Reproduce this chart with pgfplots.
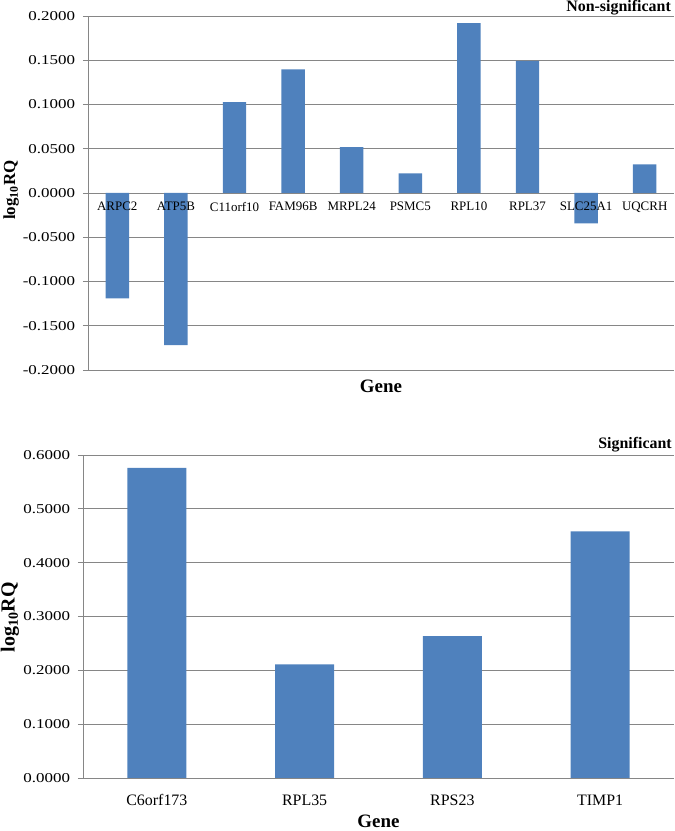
\documentclass[border=0pt]{standalone}
\usepackage{fontspec}
\setmainfont{Liberation Serif}
\usepackage{graphicx}
\usepackage{pgfplots}
\pgfplotsset{compat=1.18}
\definecolor{barblue}{RGB}{79,129,189}
\definecolor{gridgray}{RGB}{134,134,134}
\newcommand\sx[1]{\scalebox{1.25}[1]{#1}}
\pgfplotsset{
  myax/.style={
    scale only axis,
    ybar, bar width=0.4,
    axis y line*=left,
    axis line style={gridgray, line width=0.9bp},
    ymajorgrids,
    grid style={gridgray, line width=0.9bp},
    tick style={gridgray, line width=0.9bp},
    tick align=outside,
    hide obscured x ticks=false,
    hide obscured y ticks=false,
    xtick style={draw=none},
    major tick length=5bp,
    every axis title shift=0pt,
    yticklabel style={font=\fontsize{13.6}{15}\selectfont, xshift=-4.5bp},
    ylabel={\textbf{log\textsubscript{10}RQ}},
    xlabel={\textbf{Gene}},
    ylabel style={anchor=center},
    xlabel style={font=\fontsize{19}{21}\selectfont, anchor=center, inner sep=1bp},
    title style={font=\fontsize{16}{18}\selectfont\bfseries, anchor=east, inner sep=1bp},
    extra x tick style={major tick length=5bp, tick style={gridgray, line width=0.9bp, draw=gridgray}, grid=none},
    extra x tick labels={},
  }
}
\begin{document}
\begin{tikzpicture}
\path[use as bounding box] (0bp,0bp) rectangle (675bp,831bp);
% top chart
\begin{axis}[myax,
  at={(88bp,461bp)}, anchor=south west,
  width=586bp, height=354bp,
  xmin=-0.5, xmax=9.5, ymin=-0.2, ymax=0.2,
  axis x line*=middle,
  xtick={0,...,9},
  xticklabels={},
  extra x ticks={-0.5,0.5,1.5,2.5,3.5,4.5,5.5,6.5,7.5,8.5,9.5},
  ytick={-0.2,-0.15,-0.1,-0.05,0,0.05,0.1,0.15,0.2},
  yticklabels={\sx{-0.2000},\sx{-0.1500},\sx{-0.1000},\sx{-0.0500},\sx{0.0000},\sx{0.0500},\sx{0.1000},\sx{0.1500},\sx{0.2000}},
  ylabel style={font=\fontsize{17}{19}\selectfont, at={(axis description cs:-0.131,0.508)}},
  xlabel style={at={(axis description cs:0.5,-0.045)}},
  title={Non-significant},
  title style={at={(axis description cs:0.9966,1.0226)}},
]
\addplot[draw=none, fill=barblue] coordinates {
  (0,-0.119) (1,-0.172) (2,0.1027) (3,0.1396) (4,0.0519)
  (5,0.0222) (6,0.1919) (7,0.1493) (8,-0.0342) (9,0.0324)
};
\end{axis}
% overlay: category labels of the top chart, drawn over the bars
\begin{axis}[
  scale only axis,
  at={(88bp,461bp)}, anchor=south west,
  width=586bp, height=354bp,
  xmin=-0.5, xmax=9.5, ymin=-0.2, ymax=0.2,
  axis x line*=middle, axis y line=none,
  x axis line style={draw=none},
  hide obscured x ticks=false,
  ytick=\empty,
  xtick={0,...,9},
  major tick length=0pt,
  xtick style={draw=none},
  xticklabels={ARPC2,ATP5B,C11orf10,FAM96B,MRPL24,PSMC5,RPL10,RPL37,SLC25A1,UQCRH},
  xticklabel style={font=\fontsize{13}{15}\selectfont, yshift=-5.5bp},
]
\end{axis}
% bottom chart
\begin{axis}[myax,
  at={(83bp,53bp)}, anchor=south west,
  width=591bp, height=323bp,
  xmin=-0.5, xmax=3.5, ymin=0, ymax=0.6,
  axis x line*=bottom,
  xtick={0,1,2,3},
  xticklabels={C6orf173,RPL35,RPS23,TIMP1},
  xticklabel style={font=\fontsize{16}{18}\selectfont, yshift=-8bp},
  extra x ticks={-0.5,0.5,1.5,2.5,3.5},
  ytick={0,0.1,0.2,0.3,0.4,0.5,0.6},
  yticklabels={\sx{0.0000},\sx{0.1000},\sx{0.2000},\sx{0.3000},\sx{0.4000},\sx{0.5000},\sx{0.6000}},
  ylabel style={font=\fontsize{20}{22}\selectfont, at={(axis description cs:-0.1235,0.498)}},
  xlabel style={at={(axis description cs:0.5,-0.134)}},
  title={Significant},
  title style={at={(axis description cs:0.9983,1.031)}},
]
\addplot[draw=none, fill=barblue] coordinates {
  (0,0.576) (1,0.2113) (2,0.2634) (3,0.458)
};
\end{axis}
\end{tikzpicture}
\end{document}
